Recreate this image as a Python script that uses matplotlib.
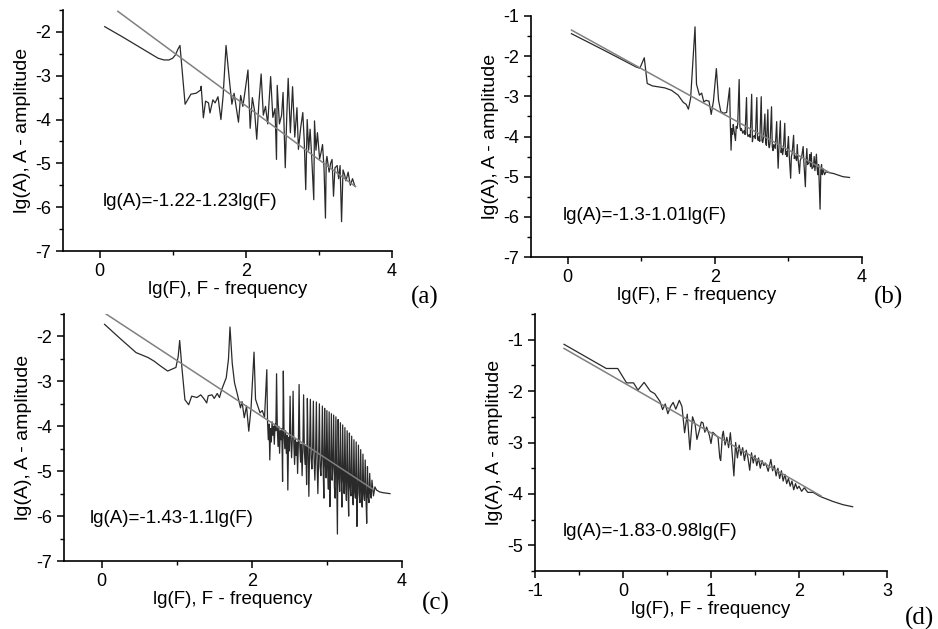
import numpy as np
import matplotlib
matplotlib.use('Agg')
import matplotlib.pyplot as plt
from matplotlib.ticker import MultipleLocator

plt.rcParams['font.family'] = ['Liberation Sans', 'DejaVu Sans']
plt.rcParams['axes.unicode_minus'] = False

# spectrum (a), lg(F) vs lg(A)
xa = [0.07, 0.30, 0.55, 0.70, 0.80, 0.88, 0.95, 1.00, 1.04, 1.07, 1.10, 1.17, 1.25, 1.32, 1.38, 1.39, 1.42, 1.45,
      1.49, 1.51, 1.55, 1.58, 1.62, 1.66, 1.69, 1.73, 1.77, 1.81, 1.84, 1.90, 1.93, 1.96, 1.99, 2.03, 2.06, 2.09,
      2.12, 2.15, 2.18, 2.21, 2.24, 2.27, 2.30, 2.34, 2.37, 2.40, 2.42, 2.43, 2.46, 2.49, 2.51, 2.54, 2.56, 2.58,
      2.61, 2.64, 2.67, 2.70, 2.72, 2.75, 2.78, 2.80, 2.82, 2.84, 2.86, 2.88, 2.90, 2.93, 2.94, 2.96, 2.98, 3.01,
      3.03, 3.05, 3.07, 3.09, 3.10, 3.11, 3.14, 3.16, 3.18, 3.20, 3.22, 3.25, 3.27, 3.29, 3.31, 3.33, 3.35, 3.37,
      3.40, 3.43, 3.46, 3.49]
ya = [-1.88, -2.10, -2.35, -2.50, -2.60, -2.64, -2.64, -2.60, -2.52, -2.40, -2.31, -3.65, -3.42, -3.40, -3.33, -3.24,
      -3.96, -3.58, -3.62, -3.85, -3.55, -3.62, -3.48, -4.00, -3.46, -2.31, -3.00, -3.65, -3.40, -4.06, -3.45, -3.70,
      -3.35, -2.87, -4.20, -3.50, -3.80, -4.45, -3.60, -2.96, -3.90, -3.70, -4.10, -3.02, -3.95, -3.75, -4.91, -3.22,
      -4.10, -3.90, -3.38, -5.10, -3.95, -3.06, -4.30, -3.25, -4.40, -3.73, -4.68, -4.20, -3.84, -4.50, -5.60, -4.00,
      -4.70, -4.22, -4.80, -5.83, -4.03, -4.70, -4.30, -4.90, -4.75, -4.57, -5.10, -6.25, -4.95, -4.84, -5.20, -5.00,
      -4.91, -5.75, -5.10, -5.05, -5.35, -5.05, -6.33, -5.15, -5.25, -5.40, -5.20, -5.50, -5.35, -5.51]
fxa = [0.25, 3.50]
fya = [-1.53, -5.53]

# spectrum (b)
xb = [0.05, 0.50, 0.93, 0.98, 1.04, 1.08, 1.15, 1.32, 1.41, 1.50, 1.57, 1.61, 1.64, 1.67, 1.73, 1.75, 1.79, 1.82,
      1.85, 1.88, 1.92, 1.95, 1.98, 2.02, 2.05, 2.08, 2.12, 2.16, 2.20, 2.21, 2.22, 2.23, 2.24, 2.25, 2.26, 2.28,
      2.29, 2.30, 2.31, 2.33, 2.34, 2.35, 2.36, 2.38, 2.40, 2.41, 2.43, 2.44, 2.45, 2.47, 2.48, 2.50, 2.51, 2.52,
      2.54, 2.55, 2.57, 2.58, 2.59, 2.60, 2.61, 2.63, 2.64, 2.65, 2.66, 2.68, 2.69, 2.70, 2.72, 2.73, 2.74, 2.75,
      2.77, 2.78, 2.79, 2.80, 2.82, 2.84, 2.85, 2.86, 2.87, 2.89, 2.90, 2.91, 2.92, 2.93, 2.95, 2.96, 2.97, 2.98,
      3.00, 3.01, 3.03, 3.04, 3.05, 3.07, 3.08, 3.09, 3.11, 3.12, 3.13, 3.15, 3.16, 3.18, 3.20, 3.21, 3.23, 3.24,
      3.25, 3.26, 3.28, 3.29, 3.30, 3.31, 3.32, 3.34, 3.35, 3.36, 3.38, 3.39, 3.40, 3.41, 3.43, 3.44, 3.45, 3.46,
      3.47, 3.49, 3.51, 3.55, 3.61, 3.74, 3.83]
yb = [-1.44, -1.86, -2.27, -2.30, -2.04, -2.68, -2.74, -2.79, -2.85, -2.97, -3.15, -3.20, -3.32, -3.05, -1.27, -2.70,
      -2.97, -2.92, -3.14, -3.10, -3.12, -3.45, -3.12, -2.31, -3.10, -3.38, -3.42, -3.40, -2.79, -3.70, -4.34, -3.80,
      -3.95, -3.70, -3.85, -4.10, -3.75, -3.80, -3.70, -2.58, -3.75, -3.85, -3.80, -3.92, -3.85, -3.95, -3.03, -3.92,
      -4.00, -3.95, -4.02, -2.95, -4.13, -4.00, -3.98, -4.05, -3.03, -4.05, -4.10, -4.00, -4.12, -3.01, -4.10, -4.15,
      -4.05, -3.44, -4.15, -4.22, -3.33, -4.20, -4.28, -4.15, -3.26, -4.25, -4.35, -4.20, -4.30, -3.63, -4.30, -4.79,
      -4.30, -3.61, -4.40, -4.30, -4.45, -4.35, -3.67, -4.45, -4.38, -4.50, -4.00, -4.45, -5.04, -4.50, -4.42, -3.97,
      -4.55, -4.48, -4.60, -4.20, -4.55, -4.92, -4.60, -4.50, -4.25, -4.65, -5.25, -4.60, -4.30, -4.70, -4.65, -4.45,
      -4.75, -4.40, -4.80, -4.75, -4.50, -4.85, -4.44, -4.80, -4.95, -4.70, -5.81, -4.85, -4.70, -4.95, -4.80, -4.95,
      -4.88, -4.90, -4.92, -5.00, -5.02]
fxb = [0.05, 3.55]
fyb = [-1.35, -4.89]

# spectrum (c)
xc = [0.04, 0.25, 0.46, 0.62, 0.70, 0.77, 0.88, 0.99, 1.02, 1.04, 1.07, 1.11, 1.16, 1.20, 1.27, 1.32, 1.36, 1.40,
      1.42, 1.47, 1.50, 1.54, 1.57, 1.60, 1.66, 1.69, 1.71, 1.74, 1.77, 1.81, 1.85, 1.87, 1.90, 1.93, 1.96, 1.99,
      2.03, 2.05, 2.08, 2.11, 2.14, 2.17,
      2.20, 2.21, 2.22, 2.23, 2.24, 2.25, 2.26, 2.27, 2.28, 2.29, 2.30, 2.31, 2.32, 2.33, 2.34, 2.35, 2.36, 2.37,
      2.38, 2.39, 2.40, 2.41, 2.42, 2.43, 2.44, 2.45, 2.46, 2.47, 2.48, 2.49, 2.50, 2.51, 2.52, 2.53, 2.54, 2.55,
      2.56, 2.57, 2.58, 2.59, 2.60, 2.61, 2.62, 2.63, 2.64, 2.65, 2.66, 2.67, 2.68, 2.69, 2.70, 2.71, 2.72, 2.73,
      2.74, 2.75, 2.76, 2.77, 2.78, 2.79, 2.80, 2.81, 2.82, 2.83, 2.84, 2.85, 2.86, 2.87, 2.88, 2.89, 2.90, 2.91,
      2.92, 2.93, 2.94, 2.95, 2.96, 2.97, 2.98, 2.99, 3.00, 3.01, 3.02, 3.03, 3.04, 3.05, 3.06, 3.07, 3.08, 3.09,
      3.10, 3.11, 3.12, 3.13, 3.14, 3.15, 3.16, 3.17, 3.18, 3.19, 3.20, 3.21, 3.22, 3.23, 3.24, 3.25, 3.26, 3.27,
      3.28, 3.29, 3.30, 3.31, 3.32, 3.33, 3.34, 3.35, 3.36, 3.37, 3.38, 3.39, 3.40, 3.41, 3.42, 3.43, 3.44, 3.45,
      3.46, 3.47, 3.48, 3.49, 3.50, 3.51, 3.52, 3.53, 3.54, 3.55, 3.56, 3.57, 3.58, 3.59, 3.60, 3.62, 3.64, 3.66,
      3.70, 3.75, 3.84]
yc = [-1.73, -2.05, -2.36, -2.47, -2.55, -2.64, -2.77, -2.69, -2.45, -2.09, -2.70, -3.41, -3.52, -3.33, -3.36, -3.30,
      -3.38, -3.48, -3.32, -3.30, -3.38, -3.27, -3.36, -3.18, -2.92, -2.50, -1.79, -2.60, -3.03, -3.30, -3.59, -3.45,
      -3.81, -3.55, -4.11, -3.60, -2.35, -3.40, -3.55, -3.70, -3.65, -3.80,
      -2.74, -3.90, -4.30, -3.95, -4.75, -4.05, -4.35, -3.90, -4.20, -4.00, -4.40, -3.95, -4.10, -2.83, -4.05, -4.45,
      -4.00, -4.60, -4.10, -4.30, -4.05, -5.23, -2.77, -4.20, -4.50, -4.10, -4.60, -4.20, -5.42, -4.25, -4.55, -3.33,
      -4.30, -4.70, -4.25, -3.22, -4.40, -4.85, -4.30, -4.65, -4.35, -5.05, -4.40, -3.07, -4.45, -4.80, -4.40, -5.10,
      -4.50, -3.30, -4.55, -4.85, -4.45, -5.30, -3.38, -4.60, -5.56, -4.55, -3.40, -4.70, -4.95, -4.55, -3.44, -4.75,
      -5.20, -4.60, -3.46, -4.85, -5.50, -4.70, -3.50, -4.90, -5.10, -4.70, -3.55, -4.95, -5.60, -3.60, -4.85, -5.15,
      -3.65, -4.90, -5.40, -3.68, -5.79, -4.95, -3.72, -5.20, -4.90, -3.75, -5.35, -5.60, -3.79, -5.05, -6.40, -3.85,
      -5.10, -5.45, -3.92, -5.15, -5.80, -3.97, -5.20, -5.50, -4.03, -5.25, -5.65, -4.10, -5.30, -6.00, -4.15, -5.35,
      -5.55, -4.22, -5.40, -5.75, -4.30, -5.45, -5.60, -4.35, -6.23, -5.45, -4.42, -5.50, -5.70, -4.52, -5.55, -5.80,
      -4.62, -5.50, -5.65, -4.75, -5.55, -6.16, -4.90, -5.55, -5.70, -5.05, -5.50, -5.60, -5.20, -5.55, -5.35, -5.42,
      -5.46, -5.48, -5.50]
fxc = [0.06, 3.62]
fyc = [-1.50, -5.41]

# spectrum (d)
xd = [-0.67, -0.19, -0.06, 0.04, 0.12, 0.17, 0.24, 0.31, 0.36, 0.42, 0.45, 0.48, 0.51, 0.54, 0.57, 0.60, 0.64, 0.67,
      0.70, 0.73, 0.76, 0.79, 0.82, 0.84, 0.87, 0.89, 0.91, 0.93, 0.95, 0.98, 1.00, 1.02, 1.05, 1.08, 1.10, 1.11,
      1.13, 1.14, 1.16, 1.18, 1.20, 1.22, 1.24, 1.26, 1.28, 1.30, 1.32, 1.34, 1.36, 1.38, 1.40, 1.42, 1.44, 1.46,
      1.48, 1.50, 1.52, 1.54, 1.56, 1.58, 1.60, 1.62, 1.65, 1.68, 1.70, 1.72, 1.74, 1.76, 1.78, 1.80, 1.82, 1.84,
      1.86, 1.88, 1.90, 1.92, 1.94, 1.96, 1.98, 2.00, 2.03, 2.06, 2.10, 2.16, 2.24, 2.39, 2.50, 2.61]
yd = [-1.09, -1.56, -1.56, -1.84, -1.84, -1.98, -1.83, -2.00, -2.05, -2.20, -2.36, -2.25, -2.44, -2.30, -2.22, -2.35,
      -2.18, -2.30, -2.81, -2.45, -3.14, -2.50, -2.65, -2.94, -2.75, -2.60, -2.62, -2.80, -2.70, -2.85, -3.02, -2.80,
      -2.85, -2.90, -3.30, -3.35, -2.85, -2.78, -3.05, -2.90, -3.10, -2.81, -3.20, -3.65, -3.00, -3.30, -3.05, -3.25,
      -3.10, -3.35, -3.15, -3.30, -3.54, -3.20, -3.40, -3.25, -3.45, -3.30, -3.50, -3.35, -3.45, -3.40, -3.56, -3.33,
      -3.55, -3.45, -3.65, -3.50, -3.70, -3.55, -3.75, -3.62, -3.80, -3.70, -3.85, -3.75, -3.92, -3.80, -3.90, -3.85,
      -3.95, -3.88, -3.97, -3.97, -4.05, -4.15, -4.21, -4.25]
fxd = [-0.67, 2.25]
fyd = [-1.17, -4.04]

eqs = ['lg(A)=-1.22-1.23lg(F)', 'lg(A)=-1.3-1.01lg(F)', 'lg(A)=-1.43-1.1lg(F)', 'lg(A)=-1.83-0.98lg(F)']
tags = ['(a)', '(b)', '(c)', '(d)']

W, H = 938, 629
fig = plt.figure(figsize=(W/100, H/100), dpi=100)

def px(l, t, r, b):
    return [l/W, 1-b/H, (r-l)/W, (b-t)/H]

panels = [
    (px(63, 10, 392, 251), xa, ya, fxa, fya, (-0.5, 4), (-7, -1.5), 2, 1, (0.05, -5.88)),
    (px(531, 16, 862, 257), xb, yb, fxb, fyb, (-0.5, 4), (-7, -1), 2, 1, (-0.07, -5.96)),
    (px(64, 314, 402, 561), xc, yc, fxc, fyc, (-0.5, 4), (-7, -1.5), 2, 1, (-0.16, -6.06)),
    (px(535, 314, 887, 571), xd, yd, fxd, fyd, (-1, 3), (-5.5, -0.5), 1, 0.5, (-0.68, -4.74)),
]
tagpos = [(425, 297), (888, 297), (436, 603), (919, 618)]

for i, (rect, x, y, fx, fy, xl, yl, xmaj, xmin, tpos) in enumerate(panels):
    ax = fig.add_axes(rect)
    ax.plot(x, y, color='#2a2a2a', lw=0.9)
    ax.plot(fx, fy, color='#808080', lw=1.1)
    ax.set_xlim(xl)
    ax.set_ylim(yl)
    ax.xaxis.set_major_locator(MultipleLocator(xmaj))
    ax.xaxis.set_minor_locator(MultipleLocator(xmin))
    ax.yaxis.set_major_locator(MultipleLocator(1))
    ax.yaxis.set_minor_locator(MultipleLocator(0.5))
    for s in ['top', 'right']:
        ax.spines[s].set_visible(False)
    for s in ['left', 'bottom']:
        ax.spines[s].set_linewidth(1.2)
    ax.tick_params(which='major', direction='out', length=5, width=1.1, labelsize=13)
    ax.tick_params(which='minor', direction='out', length=3, width=1.0)
    ax.set_xlabel('lg(F), F - frequency', fontsize=13.5, labelpad=1)
    ax.set_ylabel('lg(A), A - amplitude', fontsize=14, labelpad=3)
    ax.text(tpos[0], tpos[1], eqs[i], fontsize=13.5, va='center', ha='left')
    fig.text(tagpos[i][0]/W, 1-tagpos[i][1]/H, tags[i], fontsize=18, family='Liberation Serif',
             ha='center', va='center')

fig.savefig('out.png', dpi=100)
